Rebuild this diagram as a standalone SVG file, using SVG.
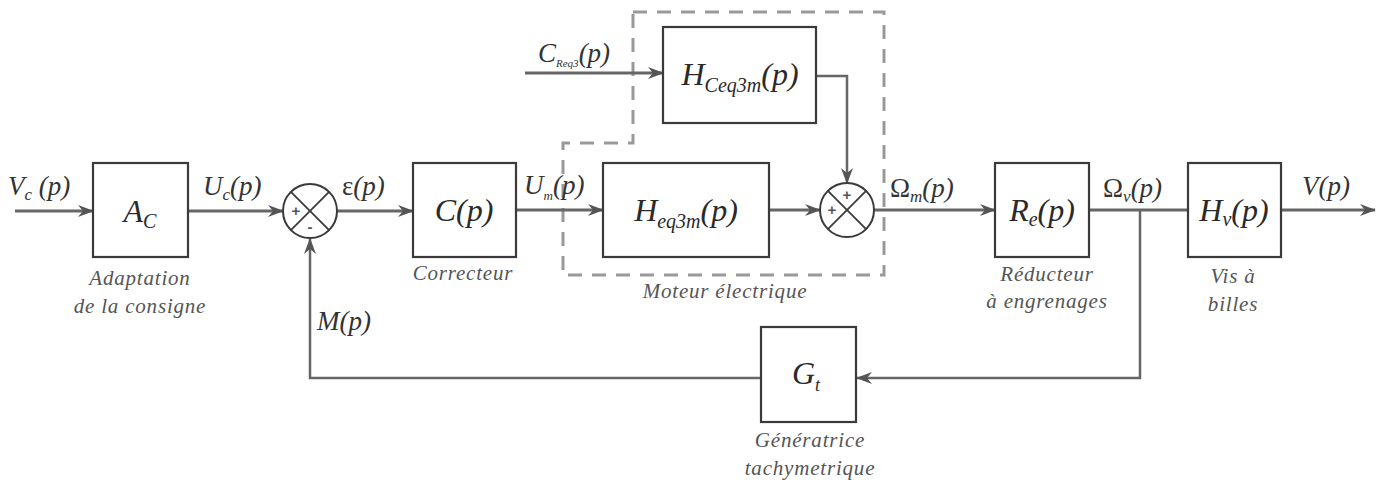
<svg xmlns="http://www.w3.org/2000/svg" width="1379" height="484" viewBox="0 0 1379 484" font-family="'Liberation Serif', 'Times New Roman', 'DejaVu Serif', serif">
<defs>
<marker id="arr" viewBox="0 0 16 12" refX="15" refY="6" markerWidth="16" markerHeight="12" markerUnits="userSpaceOnUse" orient="auto">
<path d="M0,0 L16,6 L0,12 L5,6 Z" fill="#555"/>
</marker>
<style>
.box{fill:#fff;stroke:#3a3a3a;stroke-width:2.2}
.sig{fill:none;stroke:#666;stroke-width:3}
.fb{fill:none;stroke:#666;stroke-width:2.5}
.sum{fill:#fff;stroke:#3a3a3a;stroke-width:2}
.x{stroke:#3a3a3a;stroke-width:1.8}
.dash{fill:none;stroke:#999;stroke-width:3;stroke-dasharray:14 10}
.lbl{font-family:'Liberation Serif','Times New Roman','DejaVu Serif',serif;font-style:italic;font-size:27px;fill:#333}
.blk{font-family:'Liberation Serif','Times New Roman','DejaVu Serif',serif;font-style:italic;font-size:32px;fill:#2a2a2a;text-anchor:middle}
.cap{font-family:'Liberation Serif','Times New Roman','DejaVu Serif',serif;font-style:italic;font-size:21px;fill:#555;text-anchor:middle;letter-spacing:0.8px}
.up{font-style:normal}
.sg{font-family:'Liberation Sans',Arial,sans-serif;font-size:15px;font-weight:bold;fill:#555;text-anchor:middle}
</style>
</defs>
<rect width="1379" height="484" fill="#fff"/>

<path class="dash" d="M633,12 H884 V275 H563 V143 H633 Z"/>

<g id="connectors">
<line class="sig" x1="15" y1="211" x2="93" y2="211" marker-end="url(#arr)"/>
<line class="sig" x1="188" y1="211" x2="283" y2="211" marker-end="url(#arr)"/>
<line class="sig" x1="337" y1="211" x2="413" y2="211" marker-end="url(#arr)"/>
<line class="sig" x1="516" y1="210" x2="603" y2="210" marker-end="url(#arr)"/>
<line class="sig" x1="769" y1="210" x2="820" y2="210" marker-end="url(#arr)"/>
<line class="sig" x1="525" y1="73" x2="663" y2="73" marker-end="url(#arr)"/>
<polyline class="fb" points="816,76 847,76 847,183" marker-end="url(#arr)"/>
<line class="sig" x1="874" y1="210" x2="995" y2="210" marker-end="url(#arr)"/>
<line class="sig" x1="1089" y1="210" x2="1188" y2="210"/>
<line class="sig" x1="1281" y1="210" x2="1375" y2="210" marker-end="url(#arr)"/>
<polyline class="fb" points="1140,210 1140,378 857,378" marker-end="url(#arr)"/>
<polyline class="fb" points="761,378 310,378 310,239" marker-end="url(#arr)"/>
</g>

<g id="signal-labels">
<text class="lbl" x="8" y="195">V<tspan font-size="17" dy="5">c</tspan><tspan dy="-5"> (p)</tspan></text>
<text class="lbl" x="203" y="195">U<tspan font-size="17" dy="5">c</tspan><tspan dy="-5">(p)</tspan></text>
<text class="lbl" x="342" y="195"><tspan class="up">ε</tspan>(p)</text>
<text class="lbl" x="524" y="194">U<tspan font-size="13" dy="6">m</tspan><tspan dy="-6">(p)</tspan></text>
<text class="lbl" x="538" y="62" font-size="25">C<tspan font-size="11" dy="5">Req3</tspan><tspan dy="-5">(p)</tspan></text>
<text class="lbl" x="890" y="197"><tspan class="up">Ω</tspan><tspan font-size="17" dy="5">m</tspan><tspan dy="-5">(p)</tspan></text>
<text class="lbl" x="1103" y="197"><tspan class="up">Ω</tspan><tspan font-size="17" dy="5">v</tspan><tspan dy="-5">(p)</tspan></text>
<text class="lbl" x="1302" y="195">V(p)</text>
<text class="lbl" x="317" y="330">M(p)</text>
</g>

<g id="node-ac">
<rect class="box" x="93" y="163" width="95" height="94"/>
<text class="blk" x="140" y="222">A<tspan font-size="20" dy="6">C</tspan></text>
<text class="cap" x="140" y="285">Adaptation</text>
<text class="cap" x="140" y="313">de la consigne</text>
</g>

<g id="node-sum1">
<circle class="sum" cx="310" cy="211" r="27"/>
<line class="x" x1="290.9" y1="191.9" x2="329.1" y2="230.1"/>
<line class="x" x1="329.1" y1="191.9" x2="290.9" y2="230.1"/>
<text class="sg" x="296" y="216">+</text>
<text class="sg" x="310" y="232">-</text>
</g>

<g id="node-c">
<rect class="box" x="413" y="163" width="103" height="94"/>
<text class="blk" x="464" y="221">C(p)</text>
<text class="cap" x="463" y="280">Correcteur</text>
</g>

<g id="node-heq3m">
<rect class="box" x="603" y="163" width="166" height="94"/>
<text class="blk" x="686" y="221">H<tspan font-size="20" dy="7">eq3m</tspan><tspan dy="-7">(p)</tspan></text>
</g>

<g id="node-hceq3m">
<rect class="box" x="663" y="27" width="153" height="96"/>
<text class="blk" x="740" y="85">H<tspan font-size="20" dy="7">Ceq3m</tspan><tspan dy="-7">(p)</tspan></text>
</g>

<text class="cap" x="725" y="298">Moteur électrique</text>

<g id="node-sum2">
<circle class="sum" cx="847" cy="210" r="27"/>
<line class="x" x1="827.9" y1="190.9" x2="866.1" y2="229.1"/>
<line class="x" x1="866.1" y1="190.9" x2="827.9" y2="229.1"/>
<text class="sg" x="847" y="200">+</text>
<text class="sg" x="832" y="215">+</text>
</g>

<g id="node-re">
<rect class="box" x="995" y="163" width="94" height="94"/>
<text class="blk" x="1042" y="221">R<tspan font-size="20" dy="5">e</tspan><tspan dy="-5">(p)</tspan></text>
<text class="cap" x="1047" y="281">Réducteur</text>
<text class="cap" x="1047" y="308">à engrenages</text>
</g>

<g id="node-hv">
<rect class="box" x="1188" y="163" width="93" height="94"/>
<text class="blk" x="1234" y="221">H<tspan font-size="20" dy="5">v</tspan><tspan dy="-5">(p)</tspan></text>
<text class="cap" x="1233" y="283">Vis à</text>
<text class="cap" x="1233" y="311">billes</text>
</g>

<g id="node-gt">
<rect class="box" x="761" y="327" width="95" height="95"/>
<text class="blk" x="806" y="384">G<tspan font-size="18" dy="7">t</tspan></text>
<text class="cap" x="810" y="447">Génératrice</text>
<text class="cap" x="810" y="475">tachymetrique</text>
</g>
</svg>
